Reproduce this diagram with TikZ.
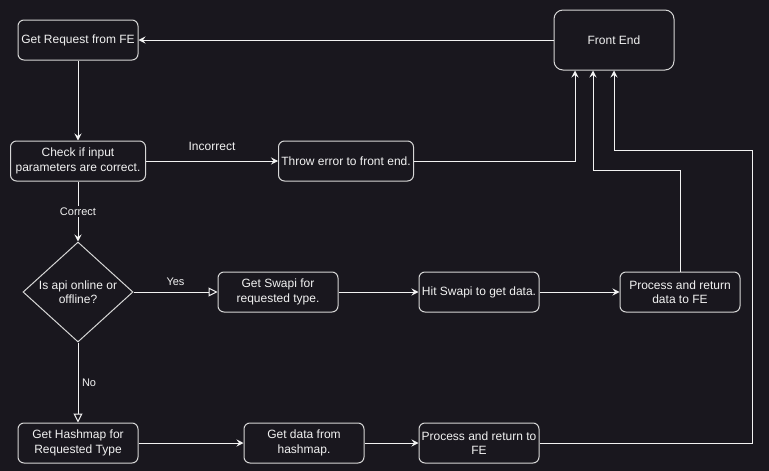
\documentclass[tikz,border=0pt]{standalone}
\usepackage{fontspec}
\setmainfont{Liberation Sans}
\usepackage{xcolor}
\definecolor{bg}{HTML}{19171E}
\definecolor{ink}{HTML}{F2F2F2}
\definecolor{edge}{HTML}{D6D6D6}
\usepackage{tikz}
\usetikzlibrary{arrows.meta,positioning,shapes.geometric}
\tikzset{
  box/.style={draw=edge,line width=1pt,rounded corners=6pt,text=ink,align=center,
              font=\fontsize{12}{14.5}\selectfont,inner xsep=1pt,
              minimum width=120pt,minimum height=40pt},
  bigbox/.style={box,rounded corners=9pt,minimum height=60pt},
  decide/.style={diamond,draw=edge,line width=1pt,text=ink,align=center,
                 font=\fontsize{12}{14.5}\selectfont,inner sep=0pt,aspect=1.1,
                 minimum width=110pt,minimum height=100pt},
  flow/.style={-{Stealth[length=7pt,width=7pt,inset=2.5pt]},line width=1pt,draw=ink},
  flowo/.style={-{Triangle[open,length=9pt,width=9pt]},line width=1pt,draw=ink},
  lbl/.style={font=\fontsize{11}{13}\selectfont,text=ink,inner sep=1.5pt},
}
\begin{document}
\begin{tikzpicture}[x=1pt,y=-1pt]
  \fill[bg] (0,0) rectangle (769,471);
  \node[box] (req) at (78,40) {Get Request from FE};
  \node[bigbox,right=415pt of req] (fe) {Front End};
  \node[box,minimum width=135pt,below=80pt of req] (chk) {Check if input\\parameters are correct.};
  \node[box,minimum width=135pt,right=132pt of chk] (err) {Throw error to front end.};
  \node[decide,below=60pt of chk] (dia) {Is api online or\\offline?};
  \node[box,right=84pt of dia] (swp) {Get Swapi for\\requested type.};
  \node[box,right=80pt of swp] (hit) {Hit Swapi to get data.};
  \node[box,right=80pt of hit] (prd) {Process and return\\data to FE};
  \node[box,below=80pt of dia] (hsh) {Get Hashmap for\\Requested Type};
  \node[box,right=105pt of hsh] (gdt) {Get data from\\hashmap.};
  \node[box,right=54pt of gdt] (prr) {Process and return to\\FE};

  \draw[flow] (fe) -- (req);
  \draw[flow] (req) -- (chk);
  \draw[flow] (chk) -- node[lbl,above=8pt,font=\fontsize{12}{14}\selectfont]{Incorrect} (err);
  \draw[flow] (err.east) -| ([xshift=-39pt]fe.south);
  \draw[flow] (chk) -- node[lbl,fill=bg]{Correct} (dia);
  \draw[flowo] (dia) -- node[lbl,above=4pt]{Yes} (swp);
  \draw[flowo] (dia) -- node[lbl,right=2pt]{No} (hsh);
  \draw[flow] (swp) -- (hit);
  \draw[flow] (hit) -- (prd);
  \draw[flow] (prd.north) |- ([xshift=-21pt,yshift=-100pt]fe.south) -- ([xshift=-21pt]fe.south);
  \draw[flow] (hsh) -- (gdt);
  \draw[flow] (gdt) -- (prr);
  \draw[flow] (prr.east) -- ++(213,0) |- ([yshift=-80pt]fe.south) -- (fe.south);
\end{tikzpicture}
\end{document}
